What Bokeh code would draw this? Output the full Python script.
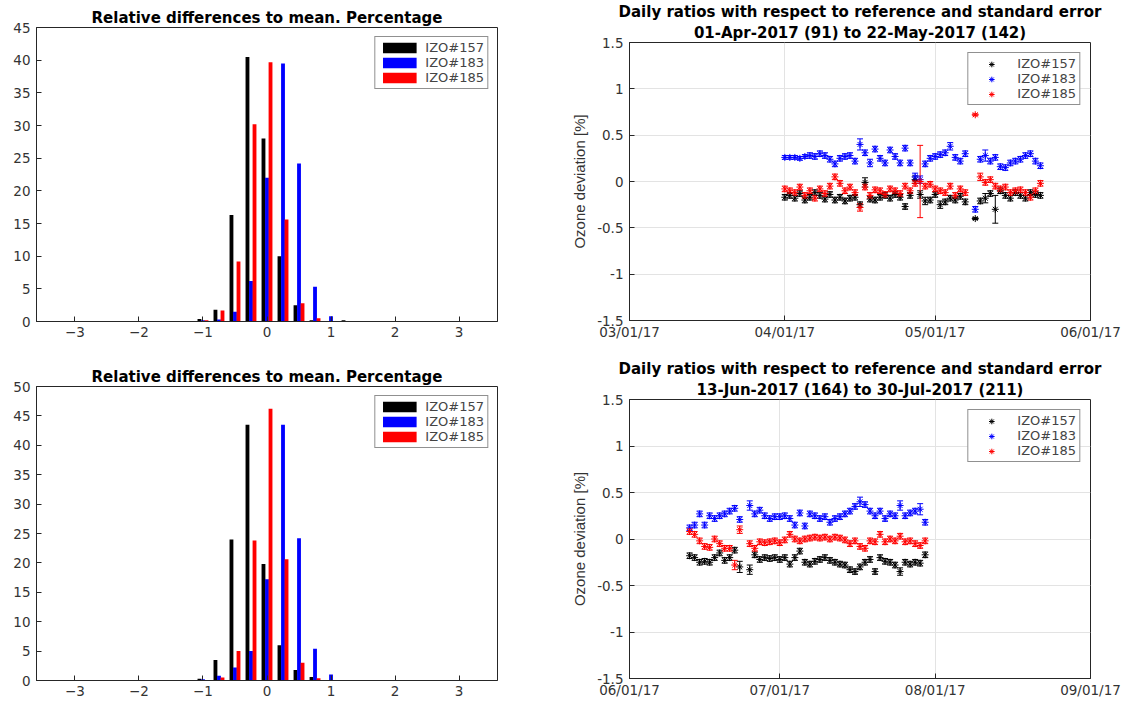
from datetime import datetime, timedelta
from bokeh.plotting import figure
from bokeh.layouts import column, row
from bokeh.models import (ColumnDataSource, Whisker, TeeHead, FixedTicker, Legend, LegendItem,
                          DatetimeTickFormatter, Range1d, Title)
from bokeh.embed import file_html
from bokeh.resources import INLINE

# ---------------- data ----------------
names = ["IZO#157", "IZO#183", "IZO#185"]
colors = ["#000000", "#0000ff", "#ff0000"]

hist_bins = [-1.0, -0.75, -0.5, -0.25, 0.0, 0.25, 0.5, 0.75, 1.0, 1.25]
top_h157 = [0.4, 1.8, 16.3, 40.5, 28.0, 10.0, 2.5, 0.2, 0.0, 0.2]
top_h183 = [0.2, 0.3, 1.5, 6.2, 22.0, 39.5, 24.2, 5.3, 0.8, 0.0]
top_h185 = [0.2, 1.7, 9.2, 30.2, 39.7, 15.6, 2.8, 0.5, 0.0, 0.0]
bot_h157 = [0.3, 3.5, 24.0, 43.5, 19.8, 6.0, 1.8, 0.6, 0.0, 0.1]
bot_h183 = [0.2, 0.8, 2.2, 5.0, 17.2, 43.5, 24.2, 5.4, 1.0, 0.0]
bot_h185 = [0.0, 0.5, 5.0, 23.8, 46.2, 20.6, 3.0, 0.4, 0.0, 0.0]

hist_title = "Relative differences to mean. Percentage"
hist_xticks = [-3, -2, -1, 0, 1, 2, 3]
top_hist_yticks = [0, 5, 10, 15, 20, 25, 30, 35, 40, 45]
bot_hist_yticks = [0, 5, 10, 15, 20, 25, 30, 35, 40, 45, 50]

# day-of-year of daily ratios
top_doy = list(range(91, 128)) + list(range(129, 143))
top_157 = [-.17, -.15, -.18, -.13, -.20, -.17, -.12, -.15, -.19, -.14,
           -.20, -.17, -.21, -.18, -.17, -.25, -.01, -.19, -.20, -.17,
           -.15, -.18, -.14, -.17, -.27, -.15, .02, -.14, -.21, -.20,
           -.14, -.25, -.22, -.18, -.20, -.16, -.22,
           -.40, -.21, -.18, -.13, -.30, -.10, -.15, -.18, -.12, -.15, -.18, -.12, -.14, -.15]
top_183 = [.26, .26, .26, .25, .27, .28, .27, .30, .28, .24,
           .19, .25, .27, .28, .22, .40, .31, .20, .35, .25,
           .20, .34, .27, .20, .36, .20, .05, .02, .19, .25,
           .27, .29, .31, .38, .26, .22, .30,
           -.30, .24, .28, .22, .26, .16, .15, .20, .22, .24, .28, .30, .22, .17]
top_185 = [-.08, -.10, -.12, -.06, -.15, -.10, -.18, -.08, -.13, -.05,
           .05, -.02, -.10, -.06, -.12, -.28, -.06, -.15, -.09, -.10,
           -.14, -.08, -.10, -.13, -.05, -.10, -.02, .00, -.05, -.03,
           -.08, -.10, -.12, -.05, -.15, -.08, -.12,
           .72, .05, -.01, .02, -.05, -.08, -.06, -.12, -.10, -.09, -.12, -.17, -.10, -.02]
top_e157 = [.03, .03, .03, .03, .03, .03, .03, .03, .03, .03,
            .03, .03, .03, .03, .03, .03, .05, .03, .03, .03,
            .03, .03, .03, .03, .03, .03, .04, .04, .04, .03,
            .03, .04, .03, .03, .03, .03, .03,
            .01, .03, .05, .03, .15, .03, .03, .03, .03, .03, .03, .03, .03, .03]
top_e183 = [.02, .02, .02, .02, .02, .03, .03, .03, .03, .03,
            .03, .03, .03, .03, .03, .06, .03, .04, .03, .03,
            .03, .03, .03, .03, .03, .03, .04, .04, .03, .03,
            .03, .03, .03, .04, .03, .03, .03,
            .03, .03, .06, .03, .03, .03, .03, .03, .03, .03, .03, .03, .03, .03]
top_e185 = [.03, .03, .03, .03, .03, .03, .03, .03, .03, .03,
            .03, .03, .03, .03, .03, .04, .03, .03, .03, .03,
            .03, .03, .03, .03, .03, .03, .03, .39, .03, .03,
            .03, .03, .03, .03, .03, .03, .03,
            .01, .04, .03, .03, .03, .03, .03, .03, .03, .03, .03, .03, .03, .03]

bot_doy = list(range(164, 175)) + list(range(176, 212))
bot_157 = [-.18, -.20, -.25, -.24, -.25, -.20, -.15, -.23, -.20, -.12, -.30,
           -.33, -.17, -.22, -.20, -.21, -.20, -.22, -.20, -.27, -.20,
           -.13, -.25, -.27, -.24, -.22, -.20, -.23, -.25, -.27, -.28,
           -.33, -.35, -.30, -.25, -.22, -.35, -.20, -.24, -.25, -.28,
           -.35, -.25, -.27, -.25, -.26, -.17]
bot_183 = [.12, .15, .27, .15, .25, .22, .25, .27, .30, .33, .21,
           .36, .27, .31, .25, .22, .24, .24, .25, .22, .15,
           .28, .14, .27, .25, .22, .24, .18, .22, .24, .27,
           .30, .35, .40, .37, .30, .25, .30, .22, .27, .25,
           .36, .25, .28, .30, .32, .18]
bot_185 = [.08, .05, -.02, -.08, -.09, .00, -.05, -.10, -.10, -.28, .10,
           -.05, -.10, -.03, -.04, -.03, -.02, -.04, -.01, .05, .00,
           -.02, .00, .01, .02, .01, .02, .00, .02, .01, -.01,
           -.05, -.02, -.08, -.10, -.02, -.03, .05, -.03, .00, -.02,
           .03, -.03, -.02, -.05, -.07, -.02]
bot_e157 = [.03, .03, .03, .03, .03, .03, .03, .03, .03, .03, .06,
            .05, .03, .03, .03, .03, .03, .03, .03, .03, .03,
            .03, .03, .03, .03, .03, .03, .03, .03, .03, .03,
            .03, .03, .03, .03, .03, .03, .03, .03, .03, .03,
            .04, .03, .03, .03, .03, .03]
bot_e183 = [.03, .03, .03, .03, .03, .03, .03, .03, .03, .03, .03,
            .05, .03, .03, .03, .03, .03, .03, .03, .03, .03,
            .03, .03, .03, .03, .03, .03, .03, .03, .03, .03,
            .03, .03, .05, .03, .03, .03, .03, .03, .03, .03,
            .05, .03, .03, .03, .06, .03]
bot_e185 = [.03, .03, .03, .03, .03, .03, .03, .03, .03, .05, .04,
            .03, .03, .03, .03, .03, .03, .03, .03, .03, .03,
            .03, .03, .03, .03, .03, .03, .03, .03, .03, .03,
            .03, .03, .03, .03, .03, .03, .03, .03, .03, .03,
            .03, .03, .03, .03, .03, .03]

sc_title_line1 = "Daily ratios with respect to reference and standard error"
sc_title_top2 = "01-Apr-2017 (91) to 22-May-2017 (142)"
sc_title_bot2 = "13-Jun-2017 (164) to 30-Jul-2017 (211)"
top_xticks = ["2017-03-01", "2017-04-01", "2017-05-01", "2017-06-01"]
bot_xticks = ["2017-06-01", "2017-07-01", "2017-08-01", "2017-09-01"]
sc_yticks = [-1.5, -1.0, -0.5, 0.0, 0.5, 1.0, 1.5]
sc_ylabels = ["-1.5", "-1", "-0.5", "0", "0.5", "1", "1.5"]
ylabel = "Ozone deviation [%]"

# ---------------- styling ----------------
TICK_FONT = "DejaVu Sans"
TICK_SIZE = "13.5px"
AX_COLOR = "#262626"


def make_title(text):
    return Title(text=text, align="center", text_font="DejaVu Sans", text_font_style="bold",
                 text_font_size="15px", text_color="#000000", standoff=1, offset=0)


def style_axes(p, x_standoff):
    for ax in (p.xaxis[0], p.yaxis[0]):
        ax.axis_line_color = AX_COLOR
        ax.major_tick_line_color = AX_COLOR
        ax.major_tick_in = 5
        ax.major_tick_out = 0
        ax.minor_tick_line_color = None
        ax.major_label_text_font = TICK_FONT
        ax.major_label_text_font_size = TICK_SIZE
        ax.major_label_text_color = "#333333"
    p.xaxis[0].major_label_standoff = x_standoff
    p.yaxis[0].major_label_standoff = 6
    p.outline_line_color = AX_COLOR
    p.outline_line_alpha = 1.0


def hist_fig(h_lists, yticks, top_border, bottom_border):
    p = figure(frame_width=461, frame_height=294, min_border_left=36, min_border_right=43,
               min_border_top=top_border, min_border_bottom=bottom_border,
               x_range=Range1d(-3.6, 3.6), y_range=Range1d(0, yticks[-1]),
               output_backend="svg", toolbar_location=None, title=None)
    p.add_layout(make_title(hist_title), "above")
    p.xgrid.visible = False
    p.ygrid.visible = False
    offsets = [-0.055, 0.0, 0.055]
    items = []
    for vals, name, c, off in zip(h_lists, names, colors, offsets):
        xs = [b + off for b in hist_bins]
        r = p.vbar(x=xs, top=vals, width=0.06, fill_color=c, line_color=None)
        items.append(LegendItem(label=name, renderers=[r]))
    leg = Legend(items=items, location="top_right", margin=9, padding=3, spacing=0,
                 glyph_width=42, glyph_height=13, label_height=13, label_standoff=5,
                 label_text_font=TICK_FONT, label_text_font_size="13px",
                 border_line_color="#222222", border_line_width=1, background_fill_alpha=1.0)
    p.add_layout(leg)
    p.xaxis.ticker = FixedTicker(ticks=hist_xticks)
    p.yaxis.ticker = FixedTicker(ticks=yticks)
    style_axes(p, 5)
    return p


def sc_fig(line2, doy, series, errs, xticks, frame_h, top_border, bottom_border):
    dstart = datetime.fromisoformat(xticks[0])
    dend = datetime.fromisoformat(xticks[-1])
    p = figure(frame_width=461, frame_height=frame_h, min_border_left=89, min_border_right=39,
               min_border_top=top_border, min_border_bottom=bottom_border,
               x_axis_type="datetime", x_range=Range1d(dstart, dend), y_range=Range1d(-1.5, 1.5),
               output_backend="svg", toolbar_location=None, title=None)
    p.add_layout(make_title(line2), "above")
    p.add_layout(make_title(sc_title_line1), "above")
    dates = [datetime(2017, 1, 1) + timedelta(days=d - 1) for d in doy]
    items = []
    for vals, e, name, c in zip(series, errs, names, colors):
        src = ColumnDataSource(dict(x=dates, y=vals,
                                    upper=[v + ee for v, ee in zip(vals, e)],
                                    lower=[v - ee for v, ee in zip(vals, e)]))
        w = Whisker(source=src, base="x", upper="upper", lower="lower", dimension="height",
                    line_color=c, line_width=1,
                    upper_head=TeeHead(size=6, line_color=c, line_width=1),
                    lower_head=TeeHead(size=6, line_color=c, line_width=1))
        p.add_layout(w)
        r = p.scatter(x="x", y="y", source=src, marker="asterisk", size=7, line_color=c, line_width=1)
        items.append(LegendItem(label=name, renderers=[r]))
    leg = Legend(items=items, location="top_right", margin=10, padding=3, spacing=0,
                 glyph_width=40, glyph_height=14, label_height=14, label_standoff=6,
                 label_text_font=TICK_FONT, label_text_font_size="13px",
                 border_line_color="#222222", border_line_width=1, background_fill_alpha=1.0)
    p.add_layout(leg)
    tick_ms = [datetime.fromisoformat(t).timestamp() * 1000 for t in xticks]
    p.xaxis.ticker = FixedTicker(ticks=tick_ms)
    fmt = "%m/%d/%y"
    p.xaxis.formatter = DatetimeTickFormatter(milliseconds=fmt, seconds=fmt, minsec=fmt, minutes=fmt,
                                              hourmin=fmt, hours=fmt, days=fmt, months=fmt, years=fmt)
    p.yaxis.ticker = FixedTicker(ticks=sc_yticks)
    p.yaxis.major_label_overrides = {v: s for v, s in zip(sc_yticks, sc_ylabels)}
    p.yaxis.axis_label = ylabel
    p.yaxis.axis_label_text_font = "Liberation Sans"
    p.yaxis.axis_label_text_font_size = "15px"
    p.yaxis.axis_label_text_font_style = "normal"
    p.yaxis.axis_label_text_color = "#333333"
    p.yaxis.axis_label_standoff = 6
    p.xgrid.grid_line_color = "#e3e3e3"
    p.ygrid.grid_line_color = "#e3e3e3"
    style_axes(p, 3)
    return p


p1 = hist_fig([top_h157, top_h183, top_h185], top_hist_yticks, 27, 21)
p3 = hist_fig([bot_h157, bot_h183, bot_h185], bot_hist_yticks, 44, 21)
p2 = sc_fig(sc_title_top2, top_doy, [top_157, top_183, top_185], [top_e157, top_e183, top_e185],
            top_xticks, 278, 39, 21)
p4 = sc_fig(sc_title_bot2, bot_doy, [bot_157, bot_183, bot_185], [bot_e157, bot_e183, bot_e185],
            bot_xticks, 279, 57, 21)

layout = row(column(p1, p3, spacing=0), column(p2, p4, spacing=0), spacing=0)
open("out.html", "w").write(file_html(layout, INLINE))
